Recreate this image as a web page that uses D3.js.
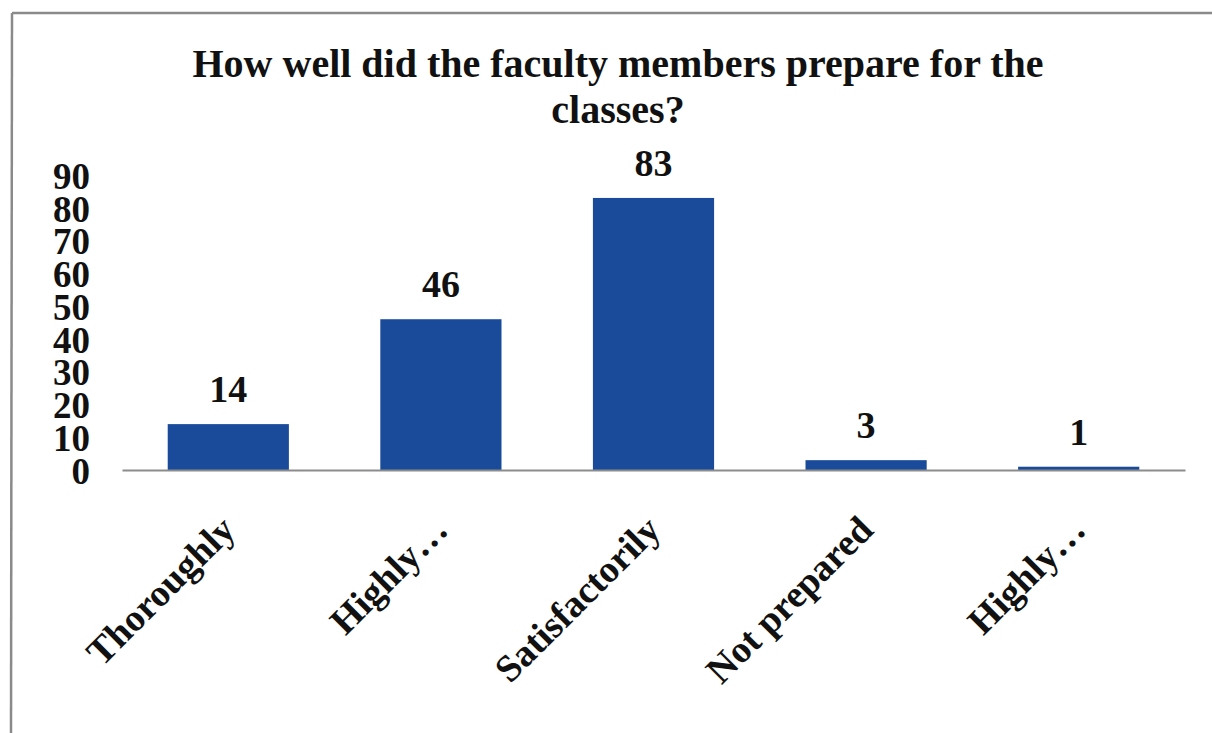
<!DOCTYPE html>
<html>
<head>
<meta charset="utf-8">
<script src="https://cdn.jsdelivr.net/npm/d3@7"></script>
<style>
  html, body { margin: 0; padding: 0; background: #fff; }
  svg { display: block; }
  text { font-family: "Liberation Serif", "Times New Roman", serif; font-weight: bold; fill: #111; }
</style>
</head>
<body>
<svg id="chart" width="1212" height="733"></svg>
<script>
const categories = ["Thoroughly", "Highly\u2026", "Satisfactorily", "Not prepared", "Highly\u2026"];
const values = [14, 46, 83, 3, 1];
const yTicks = [0, 10, 20, 30, 40, 50, 60, 70, 80, 90];
const titleLines = ["How well did the faculty members prepare for the", "classes?"];

const W = 1212, H = 733;
const svg = d3.select("#chart");

// frame (top and left edge of scanned chart border)
svg.append("line").attr("x1", 12).attr("y1", 13).attr("x2", W).attr("y2", 13)
  .attr("stroke", "#8a8a8a").attr("stroke-width", 2.5);
svg.append("line").attr("x1", 12).attr("y1", 13).attr("x2", 11).attr("y2", H)
  .attr("stroke", "#8a8a8a").attr("stroke-width", 2.5);

const plot = { left: 122, right: 1185, bottom: 470 };
const idx = categories.map((d, i) => i);
const x = d3.scaleBand().domain(idx).range([plot.left, plot.right])
  .paddingInner(0.43).paddingOuter(0.215);
const y = d3.scaleLinear().domain([0, 90]).range([plot.bottom, plot.bottom - 295]);

// title
svg.append("g").selectAll("text").data(titleLines).join("text")
  .attr("x", 618).attr("y", (d, i) => 77 + i * 46)
  .attr("text-anchor", "middle")
  .style("font-size", "40px")
  .text(d => d);

// y axis (labels only)
const yAxis = d3.axisLeft(y).tickValues(yTicks).tickSize(0).tickPadding(0);
const gy = svg.append("g").attr("transform", "translate(90,0)").call(yAxis);
gy.select(".domain").remove();
gy.selectAll("text")
  .attr("font-family", null)
  .style("font-family", "'Liberation Serif', 'Times New Roman', serif")
  .style("font-weight", "bold")
  .style("font-size", "37px")
  .attr("fill", "#111")
  .attr("dy", "0.36em");

// bars
svg.append("g").selectAll("rect").data(values).join("rect")
  .attr("x", (d, i) => x(i))
  .attr("y", d => y(d))
  .attr("width", x.bandwidth())
  .attr("height", d => y(0) - y(d))
  .attr("fill", "#1a4b9b");

// baseline
const gx = svg.append("g").attr("transform", `translate(0,${plot.bottom})`)
  .call(d3.axisBottom(x).tickSize(0).tickFormat(() => ""));
gx.select(".domain").attr("stroke", "#8c8c8c").attr("stroke-width", 2);

// value labels
svg.append("g").selectAll("text").data(values).join("text")
  .attr("x", (d, i) => x(i) + x.bandwidth() / 2)
  .attr("y", d => y(d) - 22)
  .attr("text-anchor", "middle")
  .style("font-size", "38px")
  .text(d => d);

// category labels
svg.append("g").selectAll("text").data(categories).join("text")
  .attr("transform", (d, i) => `translate(${x(i) + x.bandwidth() / 2 + 9},${plot.bottom + 62}) rotate(-45)`)
  .attr("text-anchor", "end")
  .style("font-size", "38px")
  .text(d => d);
</script>
</body>
</html>
